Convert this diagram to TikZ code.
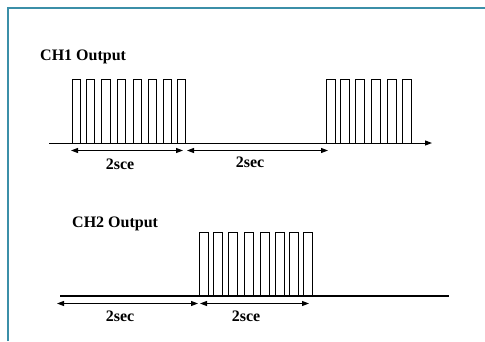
\documentclass[tikz,border=0pt]{standalone}
\usepackage{fontspec}
\setmainfont{Liberation Serif}
\usetikzlibrary{arrows.meta}
\definecolor{frameteal}{HTML}{3B8FA8}
\tikzset{
  pulse/.style={draw=black, line width=1pt},
  baseline/.style={draw=black, line width=1pt},
  dimarrow/.style={draw=black, line width=1pt, {Triangle[length=7pt,width=5pt]}-{Triangle[length=7pt,width=5pt]}},
  lbl/.style={font=\fontsize{16}{18}\selectfont\bfseries, inner sep=0pt},
  title/.style={font=\fontsize{16}{18}\selectfont\bfseries, inner sep=0pt, anchor=west}
}
\begin{document}
\begin{tikzpicture}[x=1pt,y=-1pt]
\useasboundingbox (0,0) rectangle (485,341);
% frame
\draw[frameteal, line width=2pt] (7.5,341) -- (7.5,8) -- (485,8);

% CH1
\node[title] (t1) at (40,57) {CH1 Output};
\coordinate (b1s) at (49,143);
\coordinate (b1e) at (432,143);
\draw[baseline, -{Triangle[length=7pt,width=5pt]}] (b1s) -- (b1e);
\foreach \x in {72,86,101.5,117,133,148,163,177}
  \draw[pulse] (\x,143) rectangle ++(8.5,-64);
\foreach \x in {326,340,355,371,387,402}
  \draw[pulse] (\x,143) rectangle ++(9,-64);
\coordinate (a1a) at (71,150.5);
\coordinate (a1b) at (183,150.5);
\coordinate (a1c) at (187,150.5);
\coordinate (a1d) at (328,150.5);
\draw[dimarrow] (a1a) -- (a1b);
\draw[dimarrow] (a1c) -- (a1d);
\node[lbl] (l1) at (120,164) {2sce};
\node[lbl] (l2) at (250,162) {2sec};

% CH2
\node[title] (t2) at (72,224) {CH2 Output};
\coordinate (b2s) at (60,296);
\coordinate (b2m) at (328,296);
\coordinate (b2e) at (449,296);
\draw[baseline, line width=1.3pt] (b2s) -- (b2m);
\draw[baseline, line width=1.8pt] (b2m) -- (b2e);
\foreach \x in {199,213,228,244,260,275,289,303}
  \draw[pulse] (\x,296) rectangle ++(9,-64);
\coordinate (a2a) at (57,303.5);
\coordinate (a2b) at (198,303.5);
\coordinate (a2c) at (200,303.5);
\coordinate (a2d) at (309,303.5);
\draw[dimarrow] (a2a) -- (a2b);
\draw[dimarrow] (a2c) -- (a2d);
\node[lbl] (l3) at (120,316) {2sec};
\node[lbl] (l4) at (246,316) {2sce};
\end{tikzpicture}
\end{document}
